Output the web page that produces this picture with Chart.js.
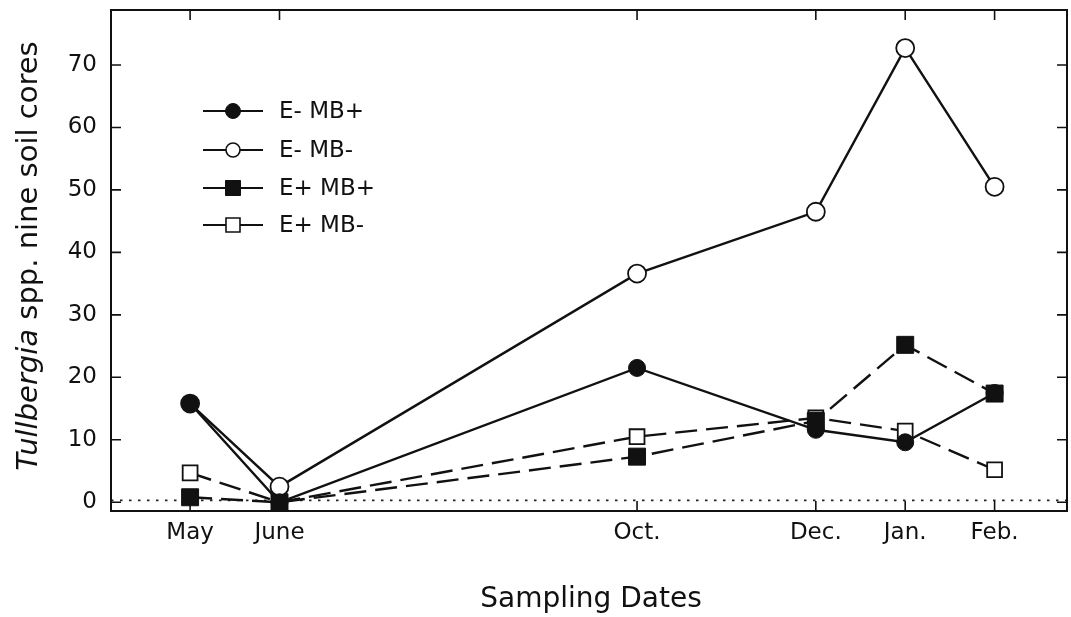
<!DOCTYPE html>
<html>
<head>
<meta charset="utf-8">
<script src="https://cdn.jsdelivr.net/npm/chart.js@4.4.1/dist/chart.umd.min.js"></script>
<style>
  html, body { margin: 0; padding: 0; background: #fff; }
  #wrap { width: 1071px; height: 617px; }
</style>
</head>
<body>
<div id="wrap"><canvas id="tullbergia-chart" width="1071" height="617"></canvas></div>
<script>
// sampling dates, placed on a month scale (May = 0)
var monthLabels = ['May', 'June', 'Oct.', 'Dec.', 'Jan.', 'Feb.'];
var monthPos = [0, 1, 5, 7, 8, 9];
var yTickVals = [0, 10, 20, 30, 40, 50, 60, 70];
var refLevel = 0.3;

// Tullbergia spp. per nine soil cores
var eMinusMbPlus = [15.8, 0, 21.5, 11.6, 9.6, 17.5];
var eMinusMbMinus = [15.8, 2.5, 36.6, 46.5, 72.7, 50.5];
var ePlusMbPlus = [0.8, 0, 7.3, 13.0, 25.2, 17.4];
var ePlusMbMinus = [4.7, 0, 10.5, 13.5, 11.4, 5.2];

var ink = '#111';
var txt = '#111';
var fontFam = '"DejaVu Sans", Arial, sans-serif';

function toPoints(vals) {
    return vals.map(function (v, i) { return { x: monthPos[i], y: v }; });
}

var seriesDefs = [
    { label: 'E- MB+', data: eMinusMbPlus, style: 'circle', filled: true, r: 8.5, dash: [] },
    { label: 'E- MB-', data: eMinusMbMinus, style: 'circle', filled: false, r: 9, dash: [] },
    { label: 'E+ MB+', data: ePlusMbPlus, style: 'rect', filled: true, r: 12, dash: [22, 9] },
    { label: 'E+ MB-', data: ePlusMbMinus, style: 'rect', filled: false, r: 10.5, dash: [22, 9] }
];

var datasets = seriesDefs.map(function (s) {
    return {
        label: s.label,
        data: toPoints(s.data),
        borderColor: ink,
        borderWidth: 2.4,
        borderDash: s.dash,
        fill: false,
        tension: 0,
        pointStyle: s.style,
        pointRadius: s.r,
        pointBackgroundColor: s.filled ? ink : '#fff',
        pointBorderColor: ink,
        pointBorderWidth: s.filled ? 1 : 1.8
    };
});

function noPad(scale) {
    scale.paddingTop = 0;
    scale.paddingBottom = 0;
    scale.paddingLeft = 0;
    scale.paddingRight = 0;
}

// frame, inward ticks, dotted reference line, titles and inset legend
var decorPlugin = {
    id: 'decor',
    beforeDatasetsDraw: function (chart) {
        var ctx = chart.ctx, a = chart.chartArea;
        var y = chart.scales.y.getPixelForValue(refLevel);
        ctx.save();
        ctx.strokeStyle = '#222';
        ctx.lineWidth = 1.6;
        ctx.setLineDash([2.5, 6.5]);
        ctx.beginPath();
        ctx.moveTo(a.left, y);
        ctx.lineTo(a.right, y);
        ctx.stroke();
        ctx.restore();
    },
    afterDraw: function (chart) {
        var ctx = chart.ctx, a = chart.chartArea;
        var xs = chart.scales.x, ys = chart.scales.y;
        var tl = 10;
        ctx.save();
        ctx.strokeStyle = ink;
        ctx.lineWidth = 2;
        ctx.strokeRect(a.left, a.top, a.right - a.left, a.bottom - a.top);

        ctx.lineWidth = 1.6;
        ctx.beginPath();
        xs.ticks.forEach(function (t) {
            var px = xs.getPixelForValue(t.value);
            ctx.moveTo(px, a.bottom); ctx.lineTo(px, a.bottom - tl);
            ctx.moveTo(px, a.top); ctx.lineTo(px, a.top + tl);
        });
        ys.ticks.forEach(function (t) {
            var py = ys.getPixelForValue(t.value);
            ctx.moveTo(a.left, py); ctx.lineTo(a.left + tl, py);
            ctx.moveTo(a.right, py); ctx.lineTo(a.right - tl, py);
        });
        ctx.stroke();

        // x title
        ctx.fillStyle = txt;
        ctx.font = '28px ' + fontFam;
        ctx.textAlign = 'center';
        ctx.textBaseline = 'alphabetic';
        ctx.fillText('Sampling Dates', 591, 607);

        // y title, genus name in italics
        var p1 = 'Tullbergia', p2 = ' spp. nine soil cores';
        var f1 = 'italic 29px ' + fontFam, f2 = '29px ' + fontFam;
        ctx.font = f1; var w1 = ctx.measureText(p1).width;
        ctx.font = f2; var w2 = ctx.measureText(p2).width;
        ctx.translate(37, 256);
        ctx.rotate(-Math.PI / 2);
        ctx.textAlign = 'left';
        var x0 = -(w1 + w2) / 2;
        ctx.font = f1; ctx.fillText(p1, x0, 0);
        ctx.font = f2; ctx.fillText(p2, x0 + w1, 0);
        ctx.restore();

        // legend
        var rows = [111, 150, 188, 225];
        ctx.save();
        seriesDefs.forEach(function (s, i) {
            var y = rows[i];
            ctx.strokeStyle = ink;
            ctx.lineWidth = 2.2;
            ctx.setLineDash([]);
            ctx.beginPath();
            ctx.moveTo(203, y); ctx.lineTo(263, y);
            ctx.stroke();
            ctx.fillStyle = s.filled ? ink : '#fff';
            ctx.lineWidth = s.filled ? 1 : 1.6;
            ctx.beginPath();
            if (s.style === 'circle') {
                ctx.arc(233, y, s.filled ? 7.5 : 7, 0, Math.PI * 2);
            } else {
                var h = s.filled ? 7.5 : 7;
                ctx.rect(233 - h, y - h, 2 * h, 2 * h);
            }
            ctx.fill();
            ctx.stroke();
            ctx.fillStyle = txt;
            ctx.font = '23px ' + fontFam;
            ctx.textAlign = 'left';
            ctx.textBaseline = 'middle';
            ctx.fillText(s.label, 279, y + 1);
        });
        ctx.restore();
    }
};

var chart = new Chart(document.getElementById('tullbergia-chart'), {
    type: 'line',
    data: { datasets: datasets },
    options: {
        responsive: false,
        animation: false,
        layout: { autoPadding: false, padding: { top: 10, right: 4, left: 0, bottom: 0 } },
        plugins: {
            legend: { display: false },
            tooltip: { enabled: false }
        },
        scales: {
            x: {
                type: 'linear',
                min: -0.885,
                max: 9.81,
                grid: { display: false, drawTicks: false },
                border: { display: false },
                afterBuildTicks: function (scale) {
                    scale.ticks = monthPos.map(function (v) { return { value: v }; });
                },
                afterFit: function (scale) { scale.height = 106; noPad(scale); },
                ticks: {
                    padding: 8,
                    color: txt,
                    font: { family: fontFam, size: 23 },
                    maxRotation: 0,
                    autoSkip: false,
                    callback: function (value) {
                        var i = monthPos.indexOf(value);
                        return i >= 0 ? monthLabels[i] : '';
                    }
                }
            },
            y: {
                min: -1.4,
                max: 78.8,
                grid: { display: false, drawTicks: false },
                border: { display: false },
                afterBuildTicks: function (scale) {
                    scale.ticks = yTickVals.map(function (v) { return { value: v }; });
                },
                afterFit: function (scale) { scale.width = 111; noPad(scale); },
                ticks: {
                    padding: 14,
                    color: txt,
                    font: { family: fontFam, size: 23 }
                }
            }
        }
    },
    plugins: [decorPlugin]
});
</script>
</body>
</html>
